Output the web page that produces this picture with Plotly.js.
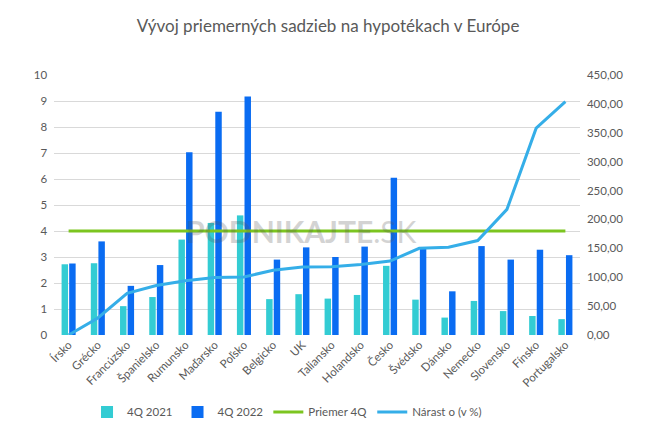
<!DOCTYPE html>
<html>
<head>
<meta charset="utf-8">
<script src="https://cdn.plot.ly/plotly-3.0.1.min.js"></script>
<style>html,body{margin:0;padding:0;background:#fff;}#chart{width:656px;height:439px;}</style>
</head>
<body>
<div id="chart"></div>
<script>
const categories = ["Írsko","Grécko","Francúzsko","Španielsko","Rumunsko","Maďarsko","Poľsko","Belgicko","UK","Taliansko","Holandsko","Česko","Švédsko","Dánsko","Nemecko","Slovensko","Fínsko","Portugalsko"];
const q2021 = [2.72,2.76,1.11,1.46,3.67,4.31,4.60,1.38,1.57,1.40,1.54,2.66,1.36,0.67,1.31,0.92,0.73,0.61];
const q2022 = [2.75,3.60,1.89,2.69,7.03,8.59,9.17,2.90,3.37,3.00,3.40,6.05,3.33,1.68,3.42,2.90,3.28,3.07];
const priemer = [4,4,4,4,4,4,4,4,4,4,4,4,4,4,4,4,4,4];
const narast = [0,29.5,72,85.7,93.7,99.4,100.5,112,117.5,118,122,128,150,152,163.5,217.5,358,404];

const font = "Lato, 'Open Sans', 'Liberation Sans', sans-serif";
const traces = [
  {type:'bar', name:'4Q 2021', x:categories, y:q2021, marker:{color:'#33CCD3'}},
  {type:'bar', name:'4Q 2022', x:categories, y:q2022, marker:{color:'#0A6CF2'}},
  {type:'scatter', mode:'lines', name:'Priemer 4Q', x:categories, y:priemer, line:{color:'#7CC520', width:3}},
  {type:'scatter', mode:'lines', name:'Nárast o (v %)', x:categories, y:narast, yaxis:'y2', line:{color:'#35AEE8', width:3}}
];
const layout = {
  width:656, height:439,
  margin:{l:54, r:76, t:75, b:100},
  paper_bgcolor:'#fff', plot_bgcolor:'#fff',
  separators:', ',
  font:{family:font, color:'#595959', size:11},
  title:{text:'Vývoj priemerných sadzieb na hypotékach v Európe', x:0.5, xanchor:'center', y:0.94, yanchor:'middle', font:{size:17, color:'#595959', family:font}},
  barmode:'group', bargap:0.48, bargroupgap:0.15,
  xaxis:{type:'category', automargin:false, tickangle:-45, showgrid:false, zeroline:false, showline:false, ticks:'', tickfont:{size:11.5, color:'#595959'}},
  yaxis:{automargin:false, range:[0,10], dtick:1, showgrid:true, gridcolor:'#D9D9D9', gridwidth:1, zeroline:false, ticks:'', tickfont:{size:11.5, color:'#595959'}, ticksuffix:'  '},
  yaxis2:{automargin:false, range:[0,450], dtick:50, overlaying:'y', side:'right', showgrid:false, zeroline:false, tickformat:'.2f', tickfont:{size:11.5, color:'#595959'}, tickprefix:'  '},
  legend:{orientation:'h', x:0.443, xanchor:'center', y:-0.24, yanchor:'top', itemwidth:30, font:{size:11.5, color:'#595959'}, traceorder:'normal'},
  annotations:[{text:'<b>PODNIKAJTE</b>.SK', xref:'paper', yref:'paper', x:0.47, y:0.4, showarrow:false, opacity:0.25, font:{size:30, color:'#555', family:font}}]
};
Plotly.newPlot('chart', traces, layout, {displayModeBar:false, staticPlot:true});
</script>
</body>
</html>
